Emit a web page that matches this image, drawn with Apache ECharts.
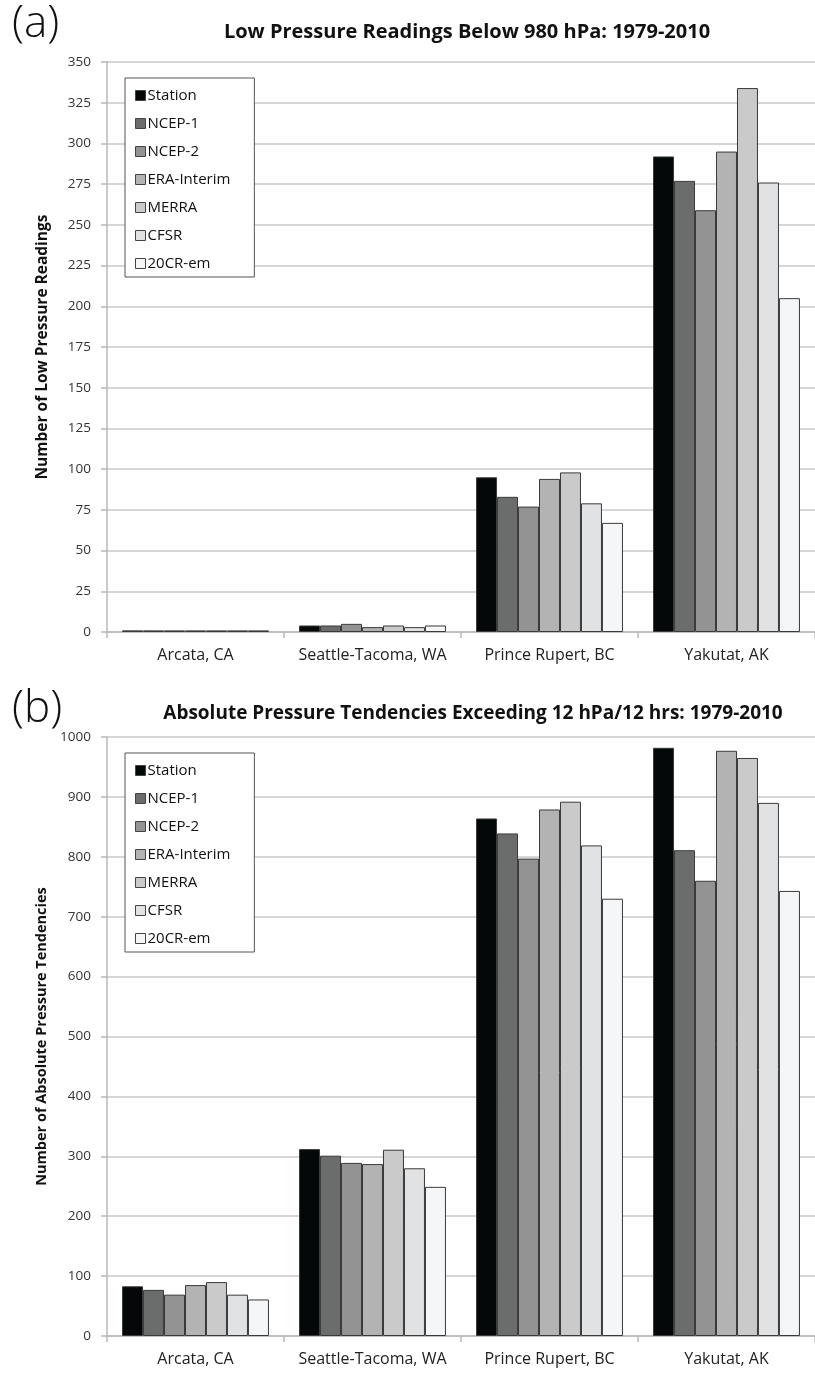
<!DOCTYPE html>
<html>
<head>
<meta charset="utf-8">
<script src="https://cdn.jsdelivr.net/npm/echarts@6/dist/echarts.min.js"></script>
<style>
html,body{margin:0;padding:0;background:#fff;}
#chart{width:815px;height:1373px;}
</style>
</head>
<body>
<div id="chart"></div>
<script>
const categories = ['Arcata, CA', 'Seattle-Tacoma, WA', 'Prince Rupert, BC', 'Yakutat, AK'];
const seriesNames = ['Station', 'NCEP-1', 'NCEP-2', 'ERA-Interim', 'MERRA', 'CFSR', '20CR-em'];
const seriesColors = ['#050808', '#6b6d6c', '#939393', '#b3b3b3', '#cacaca', '#e1e2e4', '#f5f6f8'];

// (a) Low pressure readings below 980 hPa, per category (Arcata, Seattle, Prince Rupert, Yakutat)
const lowStation   = [1, 4, 95, 292];
const lowNCEP1     = [1, 4, 83, 277];
const lowNCEP2     = [1, 5, 77, 259];
const lowERA       = [1, 3, 94, 295];
const lowMERRA     = [1, 4, 98, 334];
const lowCFSR      = [1, 3, 79, 276];
const low20CR      = [1, 4, 67, 205];

// (b) Absolute pressure tendencies exceeding 12 hPa/12 hrs
const tendStation  = [83, 312, 864, 982];
const tendNCEP1    = [77, 301, 839, 811];
const tendNCEP2    = [69, 289, 797, 760];
const tendERA      = [85, 287, 879, 977];
const tendMERRA    = [90, 311, 892, 965];
const tendCFSR     = [69, 280, 819, 890];
const tend20CR     = [61, 249, 730, 743];

const lowData  = [lowStation, lowNCEP1, lowNCEP2, lowERA, lowMERRA, lowCFSR, low20CR];
const tendData = [tendStation, tendNCEP1, tendNCEP2, tendERA, tendMERRA, tendCFSR, tend20CR];

const FONT = 'Open Sans';

function makeSeries(dataSets, axisIndex) {
  return dataSets.map((d, i) => ({
    name: seriesNames[i],
    type: 'bar',
    xAxisIndex: axisIndex,
    yAxisIndex: axisIndex,
    data: d,
    barGap: '0%',
    barCategoryGap: '17%',
    itemStyle: { color: seriesColors[i], borderColor: '#3a3a3a', borderWidth: 1 },
    emphasis: { disabled: true },
    animation: false
  }));
}

function xAxisDef(gridIndex) {
  return {
    type: 'category',
    gridIndex: gridIndex,
    data: categories,
    axisLine: { lineStyle: { color: '#b8b8b8', width: 1.5 } },
    axisTick: { show: true, alignWithLabel: false, length: 6, lineStyle: { color: '#b8b8b8', width: 1.5 } },
    axisLabel: { color: '#222', fontSize: 16, fontFamily: FONT, margin: 15, interval: 0 }
  };
}

function yAxisDef(gridIndex, max, interval, name, nameSize) {
  return {
    type: 'value',
    gridIndex: gridIndex,
    min: 0,
    max: max,
    interval: interval,
    name: name,
    nameLocation: 'middle',
    nameGap: 56,
    nameTextStyle: { fontFamily: FONT, fontWeight: 'bold', fontSize: nameSize, color: '#111' },
    axisLine: { show: true, lineStyle: { color: '#b8b8b8', width: 1.5 } },
    axisTick: { show: true, length: 6, inside: false, lineStyle: { color: '#b8b8b8', width: 1.5 } },
    axisLabel: { color: '#333', fontSize: 13.5, fontFamily: FONT, margin: 16, formatter: v => String(v) },
    splitLine: { show: true, lineStyle: { color: '#c8c8c8', width: 1.5 } }
  };
}

function legendDef(top) {
  return {
    orient: 'vertical',
    left: 125,
    top: top,
    data: seriesNames,
    icon: 'rect',
    itemWidth: 10,
    itemHeight: 10,
    itemGap: 13,
    padding: [10, 24, 6, 10],
    borderColor: '#555',
    borderWidth: 1,
    backgroundColor: '#fff',
    selectedMode: false,
    itemStyle: { borderColor: '#444', borderWidth: 1 },
    textStyle: { fontFamily: FONT, fontSize: 15, color: '#111', padding: [0, 0, 0, -3] }
  };
}

const chart = echarts.init(document.getElementById('chart'), null, { renderer: 'canvas' });
chart.setOption({
  backgroundColor: '#fff',
  animation: false,
  title: [
    { text: '(a)', left: 7, top: -3, textStyle: { fontFamily: FONT, fontWeight: 300, fontSize: 44, color: '#111' } },
    { text: 'Low Pressure Readings Below 980 hPa: 1979-2010', left: 462, top: 17, textAlign: 'center',
      textStyle: { fontFamily: FONT, fontWeight: 'bold', fontSize: 20, color: '#111' } },
    { text: '(b)', left: 7, top: 682, textStyle: { fontFamily: FONT, fontWeight: 300, fontSize: 44, color: '#111' } },
    { text: 'Absolute Pressure Tendencies Exceeding 12 hPa/12 hrs: 1979-2010', left: 468, top: 699, textAlign: 'center',
      textStyle: { fontFamily: FONT, fontWeight: 'bold', fontSize: 19, color: '#111' } }
  ],
  legend: [ legendDef(78), legendDef(753) ],
  grid: [
    { left: 107, top: 62, width: 708, height: 570 },
    { left: 107, top: 737, width: 708, height: 599 }
  ],
  xAxis: [ xAxisDef(0), xAxisDef(1) ],
  yAxis: [
    yAxisDef(0, 350, 25, 'Number of Low Pressure Readings', 15.5),
    yAxisDef(1, 1000, 100, 'Number of Absolute Pressure Tendencies', 14.5)
  ],
  series: [].concat(makeSeries(lowData, 0), makeSeries(tendData, 1))
});
</script>
</body>
</html>
